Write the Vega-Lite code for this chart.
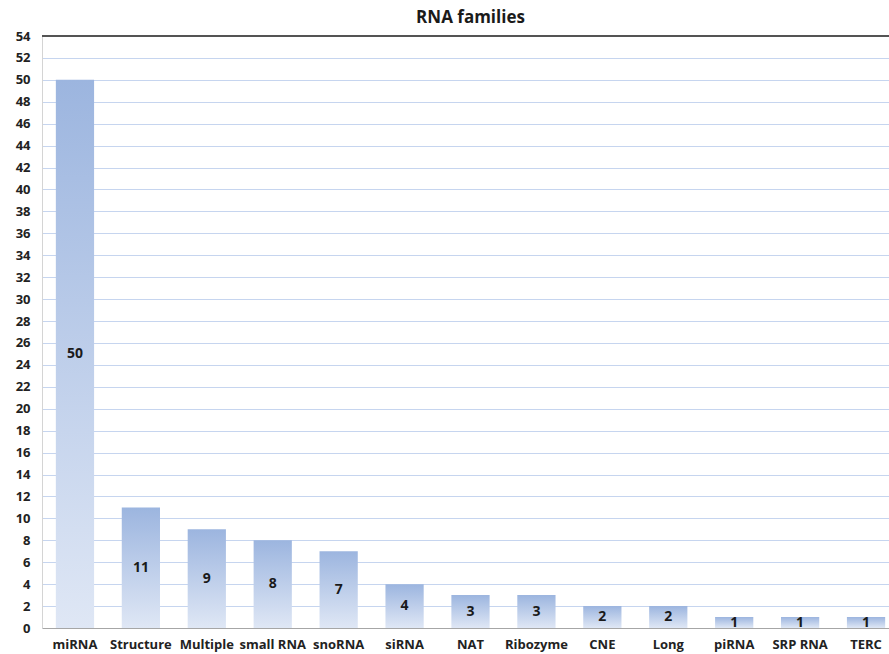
{
  "$schema": "https://vega.github.io/schema/vega-lite/v6.json",
  "autosize": {"type": "none"},
  "padding": {"left": 42, "top": 36, "right": 0, "bottom": 26},
  "width": 857,
  "height": 592,
  "background": "white",
  "title": {
    "text": "RNA families",
    "fontSize": 17,
    "fontWeight": "bold",
    "font": "Open Sans",
    "color": "#1a1a1a",
    "anchor": "middle",
    "offset": 3
  },
  "config": {
    "view": {"stroke": null},
    "font": "Open Sans"
  },
  "data": {
    "values": [
      {"family": "miRNA", "count": 50},
      {"family": "Structure", "count": 11},
      {"family": "Multiple", "count": 9},
      {"family": "small RNA", "count": 8},
      {"family": "snoRNA", "count": 7},
      {"family": "siRNA", "count": 4},
      {"family": "NAT", "count": 3},
      {"family": "Ribozyme", "count": 3},
      {"family": "CNE", "count": 2},
      {"family": "Long", "count": 2},
      {"family": "piRNA", "count": 1},
      {"family": "SRP RNA", "count": 1},
      {"family": "TERC", "count": 1}
    ]
  },
  "resolve": {"scale": {"y": "independent"}, "axis": {"y": "independent"}},
  "layer": [
    {
      "mark": {
        "type": "bar",
        "color": {
          "gradient": "linear",
          "x1": 0, "y1": 0, "x2": 0, "y2": 1,
          "stops": [
            {"offset": 0, "color": "#9cb5df"},
            {"offset": 1, "color": "#dfe7f5"}
          ]
        }
      },
      "encoding": {
        "x": {
          "field": "family",
          "type": "nominal",
          "sort": null,
          "scale": {"paddingInner": 0.42, "paddingOuter": 0.21},
          "axis": {
            "title": null,
            "labelAngle": 0,
            "labelFontSize": 13,
            "labelFontWeight": "bold",
            "labelColor": "#222222",
            "labelPadding": 10,
            "ticks": false,
            "domainColor": "#a6a6a6",
            "domainWidth": 1.2,
            "grid": false
          }
        },
        "y": {
          "field": "count",
          "type": "quantitative",
          "scale": {"domain": [0, 54], "nice": false},
          "axis": {
            "title": null,
            "values": [0, 2, 4, 6, 8, 10, 12, 14, 16, 18, 20, 22, 24, 26, 28, 30, 32, 34, 36, 38, 40, 42, 44, 46, 48, 50, 52, 54],
            "labelOverlap": false,
            "labelFontSize": 13,
            "labelFontWeight": "bold",
            "labelColor": "#222222",
            "labelPadding": 12,
            "ticks": false,
            "domainColor": "#d4d4d4",
            "gridColor": "#c6d5ef",
            "gridWidth": 1.2
          }
        }
      }
    },
    {
      "mark": {
        "type": "text",
        "fontSize": 14,
        "fontWeight": "bold",
        "color": "#1a1a1a",
        "baseline": "middle",
        "align": "center"
      },
      "encoding": {
        "x": {
          "field": "family",
          "type": "nominal",
          "sort": null,
          "scale": {"paddingInner": 0.42, "paddingOuter": 0.21}
        },
        "y": {
          "field": "count",
          "type": "quantitative",
          "scale": {"domain": [0, 108], "nice": false},
          "axis": null
        },
        "text": {"field": "count", "type": "quantitative"}
      }
    },
    {
      "mark": {"type": "rule", "color": "#555555", "strokeWidth": 1.2},
      "encoding": {
        "y": {"datum": 54, "type": "quantitative", "scale": {"domain": [0, 54], "nice": false}, "axis": null}
      }
    }
  ]
}
